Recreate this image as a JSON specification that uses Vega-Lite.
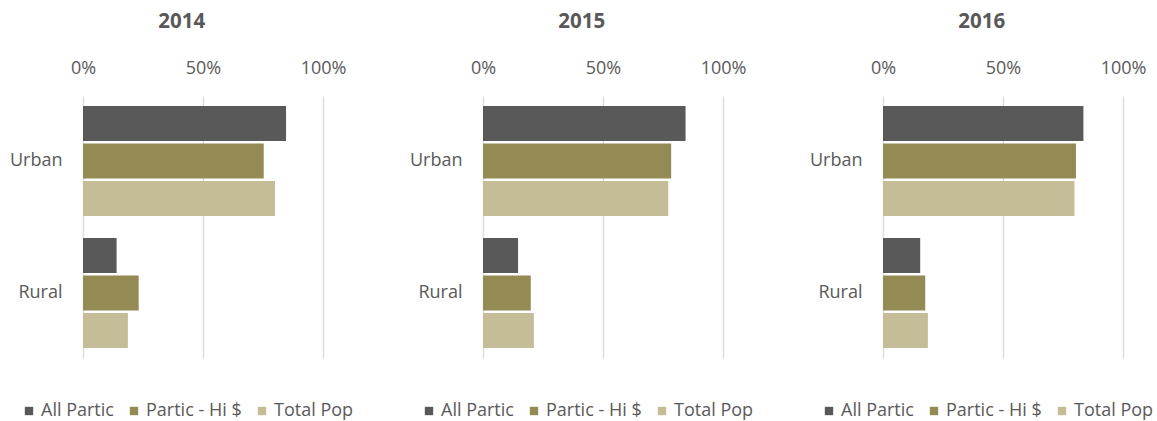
{
  "$schema": "https://vega.github.io/schema/vega-lite/v6.json",
  "background": "white",
  "padding": {"left": 9, "top": 11, "right": 0, "bottom": 0},
  "config": {
    "font": "Open Sans",
    "view": {"stroke": null},
    "axis": {
      "domain": false,
      "ticks": false,
      "tickSize": 0,
      "labelFontSize": 18,
      "labelColor": "#595959",
      "labelFlush": false,
      "labelOverlap": false,
      "gridColor": "#d9d9d9",
      "gridWidth": 1.3
    },
    "legend": {
      "labelFontSize": 18,
      "labelColor": "#595959",
      "symbolType": "square",
      "symbolSize": 70,
      "symbolStrokeWidth": 0,
      "labelOffset": 3,
      "columnPadding": 11
    },
    "title": {"fontSize": 20.5, "fontWeight": "bold", "color": "#595959"}
  },
  "datasets": {
    "d": [
      {"year": 2014, "area": "Urban", "series": "All Partic", "value": 0.846},
      {"year": 2014, "area": "Urban", "series": "Partic - Hi $", "value": 0.753},
      {"year": 2014, "area": "Urban", "series": "Total Pop", "value": 0.80},
      {"year": 2014, "area": "Rural", "series": "All Partic", "value": 0.14},
      {"year": 2014, "area": "Rural", "series": "Partic - Hi $", "value": 0.232},
      {"year": 2014, "area": "Rural", "series": "Total Pop", "value": 0.187},
      {"year": 2015, "area": "Urban", "series": "All Partic", "value": 0.844},
      {"year": 2015, "area": "Urban", "series": "Partic - Hi $", "value": 0.784},
      {"year": 2015, "area": "Urban", "series": "Total Pop", "value": 0.772},
      {"year": 2015, "area": "Rural", "series": "All Partic", "value": 0.146},
      {"year": 2015, "area": "Rural", "series": "Partic - Hi $", "value": 0.199},
      {"year": 2015, "area": "Rural", "series": "Total Pop", "value": 0.212},
      {"year": 2016, "area": "Urban", "series": "All Partic", "value": 0.835},
      {"year": 2016, "area": "Urban", "series": "Partic - Hi $", "value": 0.804},
      {"year": 2016, "area": "Urban", "series": "Total Pop", "value": 0.798},
      {"year": 2016, "area": "Rural", "series": "All Partic", "value": 0.155},
      {"year": 2016, "area": "Rural", "series": "Partic - Hi $", "value": 0.176},
      {"year": 2016, "area": "Rural", "series": "Total Pop", "value": 0.187}
    ]
  },
  "bounds": "flush",
  "spacing": 160,
  "resolve": {"legend": {"color": "independent"}},
  "hconcat": [
    {
      "title": {"text": "2014", "frame": "bounds", "anchor": "middle", "offset": 27},
      "width": 240,
      "height": 262,
      "data": {"name": "d"},
      "transform": [{"filter": "datum.year == 2014"}],
      "mark": {"type": "bar"},
      "encoding": {
        "y": {"field": "area", "type": "nominal", "sort": ["Urban", "Rural"], "title": null,
              "scale": {"paddingInner": 0.167, "paddingOuter": 0.076},
              "axis": {"labelPadding": 21, "grid": false}},
        "yOffset": {"field": "series", "type": "nominal", "sort": ["All Partic", "Partic - Hi $", "Total Pop"], "scale": {"paddingInner": 0.065, "paddingOuter": 0}},
        "x": {"field": "value", "type": "quantitative", "scale": {"domain": [0, 1]},
              "axis": {"orient": "top", "format": ".0%", "values": [0, 0.5, 1], "title": null, "labelPadding": 19, "grid": true}},
        "color": {"field": "series", "type": "nominal",
                  "scale": {"domain": ["All Partic", "Partic - Hi $", "Total Pop"], "range": ["#595959", "#948A54", "#C4BD97"]},
                  "legend": {"orient": "none", "legendX": -63, "legendY": 306, "direction": "horizontal", "title": null}}
      }
    },
    {
      "title": {"text": "2015", "frame": "bounds", "anchor": "middle", "offset": 27},
      "width": 240,
      "height": 262,
      "data": {"name": "d"},
      "transform": [{"filter": "datum.year == 2015"}],
      "mark": {"type": "bar"},
      "encoding": {
        "y": {"field": "area", "type": "nominal", "sort": ["Urban", "Rural"], "title": null,
              "scale": {"paddingInner": 0.167, "paddingOuter": 0.076},
              "axis": {"labelPadding": 21, "grid": false}},
        "yOffset": {"field": "series", "type": "nominal", "sort": ["All Partic", "Partic - Hi $", "Total Pop"], "scale": {"paddingInner": 0.065, "paddingOuter": 0}},
        "x": {"field": "value", "type": "quantitative", "scale": {"domain": [0, 1]},
              "axis": {"orient": "top", "format": ".0%", "values": [0, 0.5, 1], "title": null, "labelPadding": 19, "grid": true}},
        "color": {"field": "series", "type": "nominal",
                  "scale": {"domain": ["All Partic", "Partic - Hi $", "Total Pop"], "range": ["#595959", "#948A54", "#C4BD97"]},
                  "legend": {"orient": "none", "legendX": -63, "legendY": 306, "direction": "horizontal", "title": null}}
      }
    },
    {
      "title": {"text": "2016", "frame": "bounds", "anchor": "middle", "offset": 27},
      "width": 240,
      "height": 262,
      "data": {"name": "d"},
      "transform": [{"filter": "datum.year == 2016"}],
      "mark": {"type": "bar"},
      "encoding": {
        "y": {"field": "area", "type": "nominal", "sort": ["Urban", "Rural"], "title": null,
              "scale": {"paddingInner": 0.167, "paddingOuter": 0.076},
              "axis": {"labelPadding": 21, "grid": false}},
        "yOffset": {"field": "series", "type": "nominal", "sort": ["All Partic", "Partic - Hi $", "Total Pop"], "scale": {"paddingInner": 0.065, "paddingOuter": 0}},
        "x": {"field": "value", "type": "quantitative", "scale": {"domain": [0, 1]},
              "axis": {"orient": "top", "format": ".0%", "values": [0, 0.5, 1], "title": null, "labelPadding": 19, "grid": true}},
        "color": {"field": "series", "type": "nominal",
                  "scale": {"domain": ["All Partic", "Partic - Hi $", "Total Pop"], "range": ["#595959", "#948A54", "#C4BD97"]},
                  "legend": {"orient": "none", "legendX": -63, "legendY": 306, "direction": "horizontal", "title": null}}
      }
    }
  ]
}
